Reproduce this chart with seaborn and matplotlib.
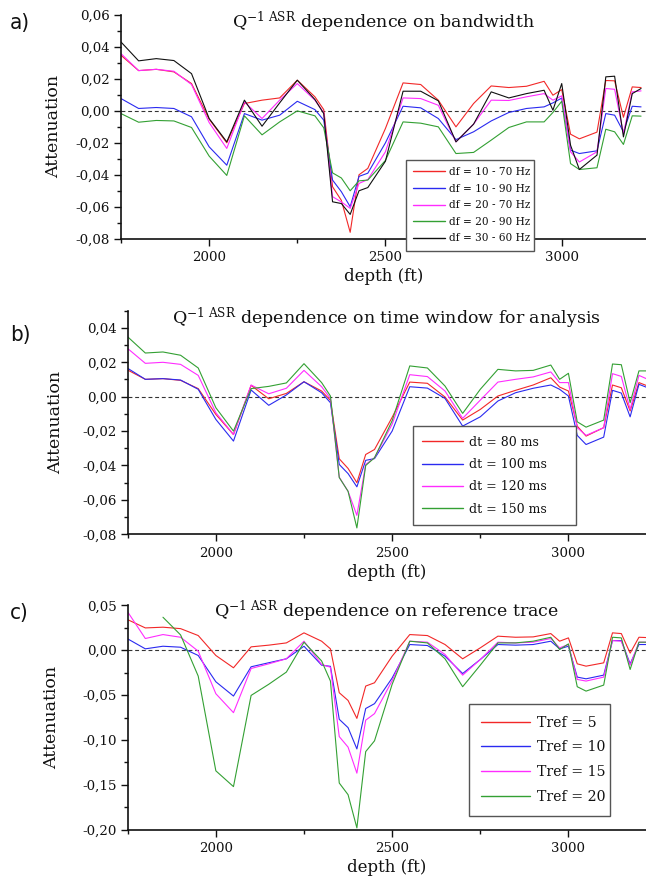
import numpy as np
import pandas as pd
import matplotlib
matplotlib.use("Agg")
import matplotlib.pyplot as plt
import seaborn as sns
from matplotlib.ticker import MultipleLocator, FuncFormatter
from matplotlib.lines import Line2D

# ---------------- data ----------------
depth = [1750, 1800, 1850, 1900, 1950, 2000, 2050, 2100, 2150, 2200, 2250, 2300,
         2325, 2350, 2375, 2400, 2425, 2450,
         2500, 2550, 2600, 2650, 2700, 2750, 2800, 2850, 2900, 2950,
         2975, 3000, 3025, 3050,
         3100, 3125, 3150, 3175, 3200, 3225]

labels_a = ["df = 10 - 70 Hz", "df = 10 - 90 Hz", "df = 20 - 70 Hz",
            "df = 20 - 90 Hz", "df = 30 - 60 Hz"]
a_10_70 = [0.0348, 0.0252, 0.026, 0.0244, 0.0171, -0.0052, -0.020, 0.0046, 0.0067, 0.0081, 0.0192, 0.0088,
           0.0008, -0.0475, -0.056, -0.076, -0.040, -0.036,
           -0.011, 0.0175, 0.0165, 0.0067, -0.010, 0.0046, 0.0156, 0.0146, 0.0154, 0.0185,
           0.0098, 0.0133, -0.0146, -0.0175,
           -0.0133, 0.019, 0.0188, -0.004, 0.015, 0.0146]
a_10_90 = [0.0077, 0.0015, 0.0021, 0.0015, -0.0037, -0.0225, -0.034, -0.0017, -0.0058, -0.0027, 0.006, 0.0008,
           -0.0058, -0.0433, -0.0506, -0.060, -0.041, -0.039,
           -0.020, 0.0029, 0.0019, -0.0048, -0.018, -0.0131, -0.0063, -0.001, 0.0015, 0.0025,
           0.005, 0.008, -0.0246, -0.0267,
           -0.025, -0.0017, -0.0027, -0.0131, 0.0029, 0.0025]
a_20_70 = [0.0358, 0.0252, 0.026, 0.0248, 0.0165, -0.0073, -0.0235, 0.0056, -0.0048, 0.0067, 0.0171, 0.0067,
           -0.0012, -0.0537, -0.057, -0.061, -0.0454, -0.043,
           -0.0256, 0.0081, 0.0077, 0.0035, -0.0194, -0.0083, 0.0067, 0.0065, 0.0088, 0.0108,
           0.0067, 0.0094, -0.0256, -0.032,
           -0.0256, 0.014, 0.0135, -0.0142, 0.0119, 0.0125]
a_20_90 = [-0.0017, -0.0071, -0.006, -0.0063, -0.0104, -0.0283, -0.0404, -0.0031, -0.015, -0.0069, 0.0, -0.0031,
           -0.0106, -0.0388, -0.042, -0.050, -0.0438, -0.0433,
           -0.031, -0.0069, -0.0077, -0.010, -0.0267, -0.026, -0.0183, -0.0104, -0.0069, -0.0069,
           -0.001, 0.006, -0.033, -0.0367,
           -0.0356, -0.0115, -0.0131, -0.021, -0.0031, -0.0033]
a_30_60 = [0.0431, 0.0313, 0.0327, 0.0315, 0.0233, -0.0048, -0.0194, 0.0067, -0.0096, 0.005, 0.0192, 0.0071,
           -0.0017, -0.0569, -0.058, -0.0648, -0.050, -0.048,
           -0.0315, 0.0123, 0.0123, 0.0063, -0.0194, -0.0083, 0.0119, 0.0081, 0.0108, 0.0129,
           0.0004, 0.0171, -0.0215, -0.0367,
           -0.0277, 0.0213, 0.0217, -0.0163, 0.0108, 0.0140]

labels_b = ["dt = 80 ms", "dt = 100 ms", "dt = 120 ms", "dt = 150 ms"]
b_80 = [0.0155, 0.0101, 0.0105, 0.0095, 0.0047, -0.0103, -0.022, 0.0066, -0.0012, 0.0019, 0.0087, 0.0033,
        -0.0021, -0.0361, -0.0417, -0.050, -0.0336, -0.0307,
        -0.012, 0.0085, 0.0078, -0.0002, -0.0136, -0.0074, 0.0004, 0.0037, 0.0068, 0.011,
        0.0056, 0.0033, -0.0171, -0.0229,
        -0.018, 0.0068, 0.0052, -0.0083, 0.0082, 0.0062]
b_100 = [0.0165, 0.0101, 0.0105, 0.0097, 0.0043, -0.0132, -0.0258, 0.0039, -0.005, 0.001, 0.0087, 0.0023,
         -0.0035, -0.0394, -0.0447, -0.0524, -0.037, -0.036,
         -0.020, 0.0058, 0.005, -0.001, -0.0171, -0.0117, -0.0025, 0.0023, 0.0049, 0.0068,
         0.0043, 0.0004, -0.0225, -0.0278,
         -0.0235, 0.0037, 0.0021, -0.0117, 0.0072, 0.0052]
b_120 = [0.028, 0.0194, 0.020, 0.0188, 0.0124, -0.0093, -0.022, 0.0068, 0.0017, 0.0049, 0.0153, 0.0058,
         -0.001, -0.0468, -0.055, -0.069, -0.0394, -0.0355,
         -0.016, 0.0128, 0.0117, 0.0033, -0.0126, -0.002, 0.0085, 0.0101, 0.0115, 0.0144,
         0.0082, 0.0082, -0.018, -0.0225,
         -0.018, 0.0134, 0.0118, -0.0074, 0.0124, 0.0101]
b_150 = [0.0348, 0.0254, 0.026, 0.0241, 0.0167, -0.0064, -0.020, 0.0047, 0.006, 0.008, 0.0192, 0.0082,
         0.0004, -0.047, -0.055, -0.0763, -0.040, -0.0355,
         -0.014, 0.0179, 0.0167, 0.0062, -0.0097, 0.0043, 0.0159, 0.015, 0.0153, 0.0184,
         0.0101, 0.0136, -0.0146, -0.0177,
         -0.0136, 0.019, 0.0186, -0.0035, 0.015, 0.015]

labels_c = ["Tref = 5", "Tref = 10", "Tref = 15", "Tref = 20"]
c_5 = [0.034, 0.0248, 0.0256, 0.024, 0.0163, -0.0059, -0.0196, 0.0037, 0.0056, 0.0081, 0.0193, 0.010,
       0.0015, -0.0474, -0.056, -0.076, -0.040, -0.0363,
       -0.0067, 0.0174, 0.0163, 0.0063, -0.0096, 0.0026, 0.0156, 0.0144, 0.0148, 0.0185,
       0.010, 0.0137, -0.0152, -0.0178,
       -0.0141, 0.0193, 0.0185, -0.0033, 0.0144, 0.014]
c_10 = [0.0126, 0.0015, 0.0044, 0.0033, -0.0059, -0.0352, -0.0511, -0.0185, -0.014, -0.0096, 0.0044, -0.0167,
        -0.018, -0.077, -0.0863, -0.110, -0.065, -0.0596,
        -0.031, 0.0063, 0.0052, -0.0067, -0.026, -0.0104, 0.0063, 0.0056, 0.0063, 0.010,
        0.0015, 0.0044, -0.030, -0.0319,
        -0.0278, 0.0107, 0.0107, -0.0152, 0.0063, 0.0063]
c_15 = [0.0426, 0.013, 0.0174, 0.0144, -0.0011, -0.0485, -0.0696, -0.0204, -0.0152, -0.0096, 0.010, -0.0159,
        -0.019, -0.0963, -0.108, -0.137, -0.078, -0.0707,
        -0.034, 0.010, 0.0089, -0.0048, -0.0278, -0.0104, 0.0089, 0.0081, 0.0089, 0.013,
        0.0026, 0.0063, -0.0326, -0.0344,
        -0.030, 0.0107, 0.010, -0.0167, 0.0089, 0.0089]
c_20 = [np.nan, np.nan, 0.0367, 0.017, -0.0289, -0.1344, -0.152, -0.0504, -0.038, -0.0244, 0.0089, -0.012,
        -0.0344, -0.148, -0.161, -0.198, -0.113, -0.101,
        -0.038, 0.010, 0.0081, -0.0096, -0.0407, -0.0167, 0.0081, 0.0081, 0.010, 0.0144,
        0.0007, 0.007, -0.0407, -0.0456,
        -0.0389, 0.0144, 0.0137, -0.0215, 0.0089, 0.0089]

colors5 = ["#f22828", "#2a2af0", "#ff2cff", "#33a033", "#101010"]
colors4 = ["#f22828", "#2a2af0", "#ff2cff", "#33a033"]

# ---------------- style ----------------
sns.set_style("ticks")
plt.rcParams.update({
    "font.family": ["DejaVu Serif"],
    "mathtext.fontset": "dejavuserif",
    "axes.linewidth": 1.2,
    "axes.edgecolor": "#111111",
    "xtick.color": "#111111",
    "ytick.color": "#111111",
    "text.color": "#111111",
    "axes.labelcolor": "#111111",
})

fig = plt.figure(figsize=(6.46, 8.88), dpi=100)
W, H = 646.0, 888.0


def comma_fmt(v, pos):
    v = round(v, 4)
    if abs(v) < 1e-9:
        v = 0.0
    return ("%.2f" % v).replace(".", ",")


def panel(rect_px, series, labels, colors, ylim, ymaj, ymin, xmax, title, title_y,
          leg_box, leg_fs, leg_ls, leg_bp, leg_hl, ylab_x, letter, letter_xy):
    l, t, r, b = rect_px
    ax = fig.add_axes([l / W, 1 - b / H, (r - l) / W, (b - t) / H])
    df = pd.DataFrame({
        "depth": np.tile(depth, len(series)),
        "value": np.concatenate([np.asarray(s, dtype=float) for s in series]),
        "series": np.repeat(labels, len(depth)),
    })
    sns.lineplot(data=df, x="depth", y="value", hue="series", hue_order=labels,
                 palette=dict(zip(labels, colors)), estimator=None, sort=False,
                 linewidth=0.8, legend=False, ax=ax)
    ax.axhline(0, color="#333333", lw=0.8, ls=(0, (3.5, 2.5)), zorder=1)
    ax.set_xlim(1750, xmax)
    ax.set_ylim(*ylim)
    ax.xaxis.set_major_locator(MultipleLocator(500))
    ax.xaxis.set_minor_locator(MultipleLocator(250))
    ax.yaxis.set_major_locator(MultipleLocator(ymaj))
    ax.yaxis.set_minor_locator(MultipleLocator(ymin))
    ax.yaxis.set_major_formatter(FuncFormatter(comma_fmt))
    ax.tick_params(axis="both", which="major", direction="out", length=5, width=1.0,
                   labelsize=9.6, pad=3)
    ax.tick_params(axis="both", which="minor", direction="out", length=3, width=1.0)
    ax.tick_params(axis="x", which="major", pad=4)
    for s in ("top", "right"):
        ax.spines[s].set_visible(False)
    ax.set_xlabel("depth (ft)", fontsize=12, labelpad=3)
    ax.set_ylabel("Attenuation", fontsize=12.5)
    ax.yaxis.set_label_coords(ylab_x, 0.5)
    ax.text(0.5, title_y, title, transform=ax.transAxes, ha="center", va="baseline",
            fontsize=12.5)
    handles = [Line2D([], [], color=c, lw=1.0) for c in colors]
    leg = ax.legend(handles, labels, loc="lower left", bbox_to_anchor=leg_box,
                    mode="expand", borderaxespad=0, fontsize=leg_fs, frameon=True,
                    fancybox=False, edgecolor="#555555", framealpha=1,
                    handlelength=leg_hl, handletextpad=0.45, labelspacing=leg_ls,
                    borderpad=leg_bp)
    leg.get_frame().set_linewidth(1.0)
    fig.text(letter_xy[0] / W, 1 - letter_xy[1] / H, letter, fontsize=16,
             family="DejaVu Sans", stretch="condensed", ha="center", va="center")
    return ax


panel((121, 15, 646, 238.7), [a_10_70, a_10_90, a_20_70, a_20_90, a_30_60], labels_a,
      colors5, (-0.08, 0.06), 0.02, 0.01, 3239,
      r"Q$^{\mathregular{-1\ ASR}}$ dependence on bandwidth", 0.942,
      (0.542, -0.0536, 0.245, 0.4), 7.6, 0.62, 0.7, 3.0, -0.112, "a)", (20, 23))

panel((127.7, 310.7, 646, 534.3), [b_80, b_100, b_120, b_150], labels_b,
      colors4, (-0.08, 0.05), 0.02, 0.01, 3220,
      r"Q$^{\mathregular{-1\ ASR}}$ dependence on time window for analysis", 0.9405,
      (0.55, 0.0416, 0.315, 0.4), 9.0, 0.74, 0.75, 3.3, -0.123, "b)", (20, 335))

panel((127.7, 605.3, 646, 829.7), [c_5, c_10, c_15, c_20], labels_c,
      colors4, (-0.20, 0.05), 0.05, 0.025, 3220,
      r"Q$^{\mathregular{-1\ ASR}}$ dependence on reference trace", 0.948,
      (0.659, 0.0624, 0.2715, 0.4), 10.2, 0.75, 0.85, 3.45, -0.131, "c)", (19, 613))

fig.savefig("out.png", dpi=100)
